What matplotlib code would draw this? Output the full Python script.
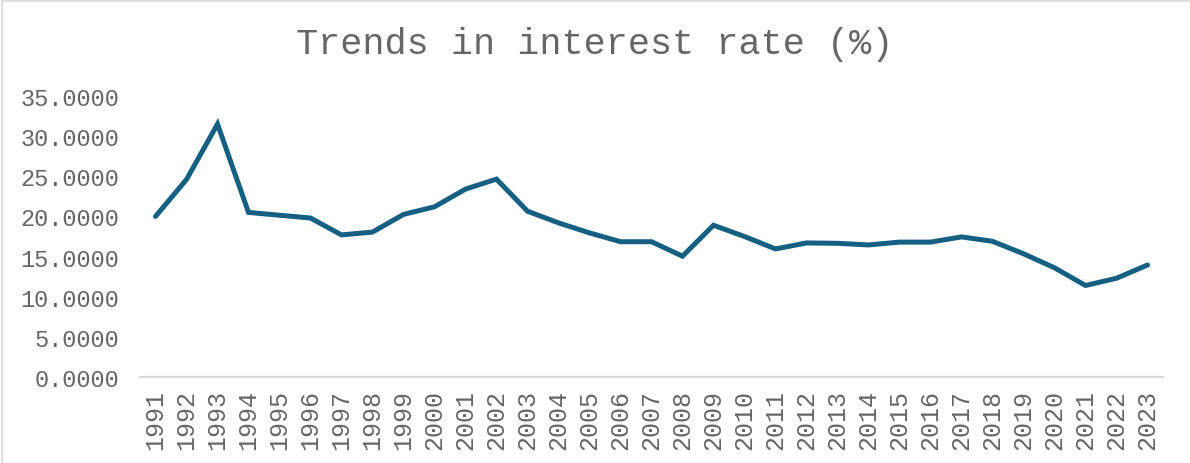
import matplotlib
matplotlib.use("Agg")
import matplotlib.pyplot as plt
from matplotlib.lines import Line2D

years = [str(y) for y in range(1991, 2024)]
interest_rate = [20.0, 24.6, 31.5, 20.5, 20.15, 19.8, 17.7, 18.05, 20.25, 21.2,
                 23.4, 24.65, 20.65, 19.2, 17.95, 16.85, 16.85, 15.05, 18.9, 17.5,
                 15.95, 16.7, 16.65, 16.45, 16.8, 16.8, 17.45, 16.9, 15.35, 13.6,
                 11.4, 12.3, 13.95]
y_ticks = [0, 5, 10, 15, 20, 25, 30, 35]

W, H = 1190, 464
fig = plt.figure(figsize=(W / 100, H / 100), dpi=100)
fig.patch.set_facecolor("white")

font = "Liberation Mono"
grey = "#666666"

ax = fig.add_axes([140 / W, (H - 378) / H, (1163 - 140) / W, (378 - 97) / H])
x = list(range(len(years)))
ax.plot(x, interest_rate, color="#156082", linewidth=3.6, solid_joinstyle="miter",
        solid_capstyle="round")
ax.set_xlim(-0.5, len(years) - 0.5)
ax.set_ylim(0, 35)
ax.set_yticks(y_ticks)
ax.set_yticklabels([f"{v:.4f}" for v in y_ticks], fontfamily=font, fontsize=17, color=grey)
ax.set_xticks(x)
ax.set_xticklabels(years, rotation=90, fontfamily=font, fontsize=18, color=grey)
ax.tick_params(axis="both", length=0)
ax.tick_params(axis="y", pad=15)
ax.tick_params(axis="x", pad=9)
for s in ["top", "right", "left"]:
    ax.spines[s].set_visible(False)
ax.spines["bottom"].set_color("#d9d9d9")
ax.spines["bottom"].set_linewidth(1.5)

fig.text(0.5, (H - 44) / H, "Trends in interest rate (%)", ha="center", va="center",
         fontfamily=font, fontsize=26.6, color=grey)

# chart area border (top and left visible)
fig.add_artist(Line2D([2 / W, 1], [(H - 2) / H, (H - 2) / H], color="#d9d9d9", linewidth=1.2,
                      transform=fig.transFigure))
fig.add_artist(Line2D([2 / W, 2 / W], [0, (H - 2) / H], color="#d9d9d9", linewidth=1.2,
                      transform=fig.transFigure))

fig.savefig("out.png", dpi=100, facecolor="white")
